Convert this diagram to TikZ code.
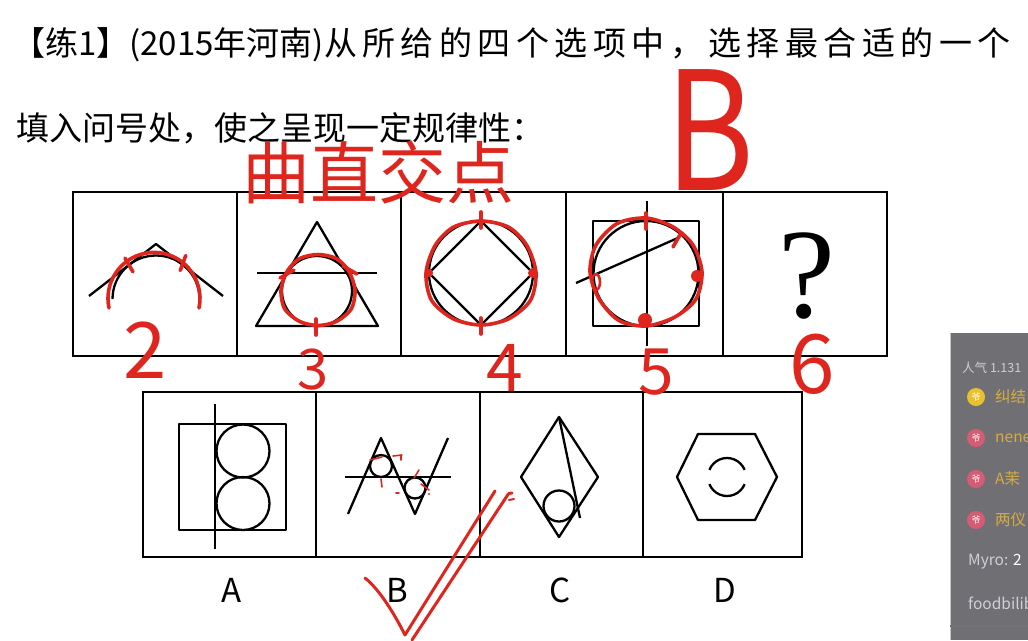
\documentclass[tikz,border=0pt]{standalone}
\usepackage{fontspec}
\usepackage{graphicx}
\newfontfamily\cjk{Noto Sans CJK SC}
\newfontfamily\cjkwide{Noto Sans CJK SC}[LetterSpace=16.5]
\newfontfamily\qmarkfont{Liberation Serif}
\usetikzlibrary{positioning}
\definecolor{inkred}{RGB}{222,38,30}
\definecolor{panelgray}{RGB}{112,112,116}
\definecolor{chatgold}{RGB}{214,172,64}
\definecolor{chatgray}{RGB}{205,208,214}
\definecolor{badgepink}{RGB}{214,92,116}
\definecolor{badgeyellow}{RGB}{232,192,48}

\begin{document}
\begin{tikzpicture}[x=1pt,y=1pt,yscale=-1,
  cell/.style={draw, line width=2.3pt, minimum height=164pt, inner sep=0pt},
  fig/.style={line width=2.3pt, line join=round},
  ink/.style={inkred, line width=3.6pt, line cap=round, line join=round},
  inkthin/.style={inkred, line width=1.6pt, line cap=round},
  qtext/.style={inner sep=0pt, font=\cjk\fontsize{33}{40}\selectfont},
  rednum/.style={inner sep=0pt, inkred},
  chat/.style={inner sep=0pt, anchor=west, font=\cjk\fontsize{15.5}{17}\selectfont}]

\fill[white] (0,0) rectangle (1028,640);
\useasboundingbox (0,0) rectangle (1028,640);

%---------------------------------------
% Question text
%---------------------------------------
\node[qtext, anchor=west] (title) at (12,45)
  {【练1】(2015年河南){\cjkwide 从所给的四个选项中，选择最合适的一个}};
\node[qtext, anchor=west] (prompt) at (16,128)
  {填入问号处，使之呈现一定规律性：};

%====================================================
% TOP ROW: the sequence
%====================================================
\foreach \nm/\cx/\w in {q1/155/164, q2/319/164, q3/483.5/165, q4/644.5/157, q5/805/164}
  \node[cell, minimum width=\w pt] (\nm) at (\cx,274) {};

% 1: chevron and arc
\draw[fig] (89,296) -- (156,244) -- (223,296);
\draw[fig] (112.5,299) arc[start angle=180, end angle=360, radius=43.5];

% 2: triangle, line and circle
\draw[fig] (317,222) -- (378,326) -- (256,326) -- cycle;
\draw[fig] (257,273) -- (377,273);
\draw[fig] (317,291) circle[radius=35];

% 3: circle and diamond
\draw[fig] (481,273) circle[radius=52];
\draw[fig] (481,221) -- (533,273) -- (481,325) -- (429,273) -- cycle;

% 4: square, circle, two lines
\draw[fig] (593,221) rectangle (699,326);
\draw[fig] (646,273.5) circle[radius=52.5];
\draw[fig] (647,201) -- (647,346);
\draw[fig] (576,283) -- (680,237);

% 5: question mark
\node[inner sep=0pt, font=\qmarkfont\fontsize{128}{128}\selectfont] (qmark) at (807,276) {?};

%====================================================
% BOTTOM ROW: the options
%====================================================
\foreach \nm/\cx/\w in {oA/229.5/173, oB/398/164, oC/561.5/163, oD/722.5/159}
  \node[cell, minimum width=\w pt, minimum height=165pt] (\nm) at (\cx,474.5) {};

% A
\draw[fig] (179,424) rectangle (286,530);
\draw[fig] (215,404) -- (215,549);
\draw[fig] (243,451) circle[radius=26.5];
\draw[fig] (243,503.5) circle[radius=26.5];

% B
\draw[fig] (348,514) -- (381,438) -- (415,514) -- (448,438);
\draw[fig] (345,477) -- (451,477);
\draw[fig] (381,466) circle[radius=11];
\draw[fig] (415,488) circle[radius=10.5];

% C
\draw[fig] (559,417) -- (598,477) -- (559,537) -- (521,477) -- cycle;
\draw[fig] (559,417) -- (580,518);
\draw[fig] (559,506) circle[radius=15.5];

% D
\draw[fig] (698,434) -- (755,434) -- (777,477) -- (755,520) -- (698,520) -- (677,477) -- cycle;
\draw[fig] ([shift={(-158:19)}]727,477) arc[start angle=-158, end angle=-22, radius=19];
\draw[fig] ([shift={(158:19)}]727,477) arc[start angle=158, end angle=22, radius=19];

\foreach \nm/\cx/\t in {lA/232/A, lB/397/B, lC/560/C, lD/725/D}
  \node[qtext] (\nm) at (\cx,590) {\t};

%====================================================
% Red marks
%====================================================
% curves traced over
\draw[ink] (109,308) arc[start angle=168, end angle=372, radius=46];
\draw[ink] plot[smooth cycle, samples=12, domain=0:330]
  ({318+(37+1.5*sin(3*\x))*cos(\x)}, {290+(37+1.5*cos(2*\x))*sin(\x)});
\draw[ink] plot[smooth cycle, samples=12, domain=0:330]
  ({481+(55+2*sin(3*\x))*cos(\x)}, {273+(54+2*cos(2*\x))*sin(\x)});
\draw[ink] plot[smooth cycle, samples=12, domain=0:330]
  ({646+(56+2*sin(2*\x))*cos(\x)}, {272+(54+2*cos(3*\x))*sin(\x)});

% intersection ticks
\foreach \px/\py/\a in {129/265/60, 183/263/110, 287/274/-30, 350/270/30, 316/327/90,
                        481/220/90, 481/326/90, 646/221/90, 677/240/120}
  \draw[ink] (\px,\py) ++(\a:-8) -- ++(\a:16);
\foreach \px/\py/\r in {533/273/5, 429/273/4, 697/276/6, 645/320/7}
  \fill[inkred] (\px,\py) circle[radius=\r];
\draw[ink, line width=2.6pt] (596,282) ellipse[x radius=4, y radius=8];

% small dashes on option B
\draw[inkthin] (370,460) -- (382,457);
\draw[inkthin] (393,456) -- (402,455) (401,455) -- (401,460);
\draw[inkthin] (381,479) -- (382,487);
\draw[inkthin] (396,493) -- (399,493);
\draw[inkthin] (414,478) -- (419,470);
\draw[inkthin] (421,484) -- (429,490);
\fill[inkred] (429,494) circle[radius=1.2];

% counts
\foreach \nm/\px/\py/\s/\d in {n2/145/350/78/2, n3/313/370/56/3, n4/505/368/66/4,
                               n5/656/372/64/5, n6/812/364/82/6}
  \node[rednum, font=\cjk\fontsize{\s}{\s}\selectfont] (\nm) at (\px,\py) {\d};

% rule and answer
\node[rednum, font=\cjk\fontsize{68}{68}\selectfont] (rule) at (378,172) {曲直交点};
\node[rednum, font=\cjk\fontsize{165}{165}\selectfont] (answer) at (710,130)
  {\scalebox{0.82}[1]{B}};

% check mark
\draw[ink, line width=3pt] (365,578) .. controls (380,590) and (395,615) .. (405,635)
  -- (495,491);
\draw[ink, line width=3pt] (412,640) -- (507,496) .. controls (509,493) .. (512,493);
\draw[ink, line width=2pt] (509,500) -- (514,499);

%====================================================
% Chat panel
%====================================================
\begin{scope}
  \clip (0,0) rectangle (1028,640);
  \fill[panelgray] (950,333) rectangle (1028,640);
  \draw[gray!45, line width=1pt] (950.5,333) -- (950.5,640);
  \draw[black!55, line width=1.5pt] (950,626) -- (1028,626);

  \node[chat, text=chatgray, font=\cjk\fontsize{12.5}{14}\selectfont] (pop) at (962,368) {人气 1.131};

  \foreach \nm/\py/\col/\t in {c1/397/badgeyellow/纠结, c2/438/badgepink/nene,
                               c3/479/badgepink/A茉, c4/520/badgepink/两仪}{
    \fill[\col] (976,\py) circle[radius=9];
    \node[inner sep=0pt, text=white, font=\cjk\fontsize{9}{9}\selectfont] at (976,\py) {爷};
    \node[chat, text=chatgold] (\nm) at (995,\py) {\t};
  }

  \node[chat, text=chatgray] (myro) at (968,562) {Myro: \textcolor{white}{2}};
  \node[chat, text=chatgray] (food) at (968,603) {foodbilib};
\end{scope}

\end{tikzpicture}
\end{document}
